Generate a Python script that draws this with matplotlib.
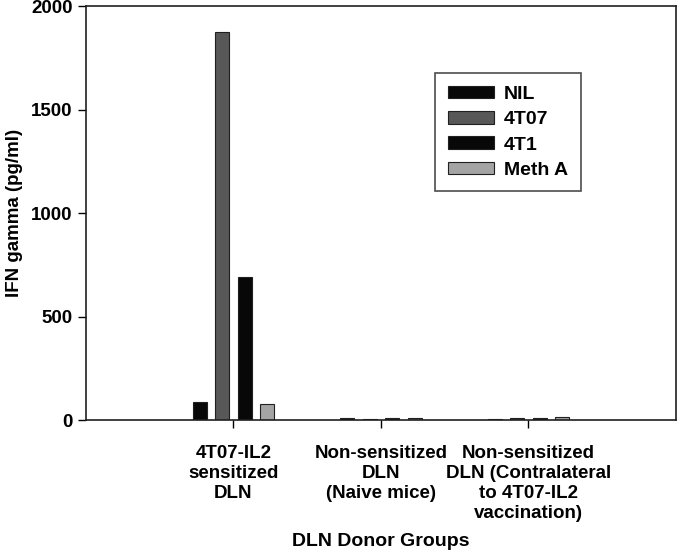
import numpy as np
import matplotlib
matplotlib.use('Agg')
import matplotlib.pyplot as plt

plt.rcParams['font.family'] = ['Liberation Sans', 'DejaVu Sans']
plt.rcParams['font.weight'] = 'bold'

# data
grupos = ['4T07-IL2\nsensitized\nDLN',
          'Non-sensitized\nDLN\n(Naive mice)',
          'Non-sensitized\nDLN (Contralateral\nto 4T07-IL2\nvaccination)']
series = ['NIL', '4T07', '4T1', 'Meth A']
nil = [88, 8, 5]
t407 = [1874, 6, 8]
t41 = [692, 10, 10]
metha = [77, 12, 14]
colores = ['#080808', '#585858', '#080808', '#a4a4a4']

valores = [nil, t407, t41, metha]

fig = plt.figure(figsize=(6.77, 5.52), dpi=100)
ax = fig.add_axes([0.127, 0.239, 0.8715, 0.75])

x = np.arange(1, len(grupos) + 1)
ancho = 0.095
paso = 0.152
for i in range(len(series)):
    ax.bar(x + (i - 1.5) * paso, valores[i], width=ancho, color=colores[i],
           edgecolor='#202020', linewidth=0.8, label=series[i])

ax.set_xlim(0, 4)
ax.set_ylim(0, 2000)
ax.set_yticks([0, 500, 1000, 1500, 2000])
ax.set_xticks(x)
ax.set_xticklabels(grupos, fontsize=13.5, fontweight='bold', linespacing=1.22)
ax.tick_params(axis='y', labelsize=13.5, direction='out', length=6, width=1)
ax.tick_params(axis='x', direction='out', length=6, width=1, pad=12)
for sp in ax.spines.values():
    sp.set_linewidth(1.2)
    sp.set_color('#202020')

ax.set_xlabel('DLN Donor Groups', fontsize=14, fontweight='bold', labelpad=8)
ax.set_ylabel('IFN gamma (pg/ml)', fontsize=13.5, fontweight='bold', labelpad=6)

leg = ax.legend(loc='upper left', bbox_to_anchor=(0.5915, 0.838), fontsize=14,
                frameon=True, fancybox=False, edgecolor='#202020',
                handlelength=2.4, handleheight=0.62, handletextpad=0.5,
                labelspacing=0.42, borderpad=0.65, borderaxespad=0)
leg.get_frame().set_linewidth(1.2)

fig.savefig('out.png', dpi=100)
